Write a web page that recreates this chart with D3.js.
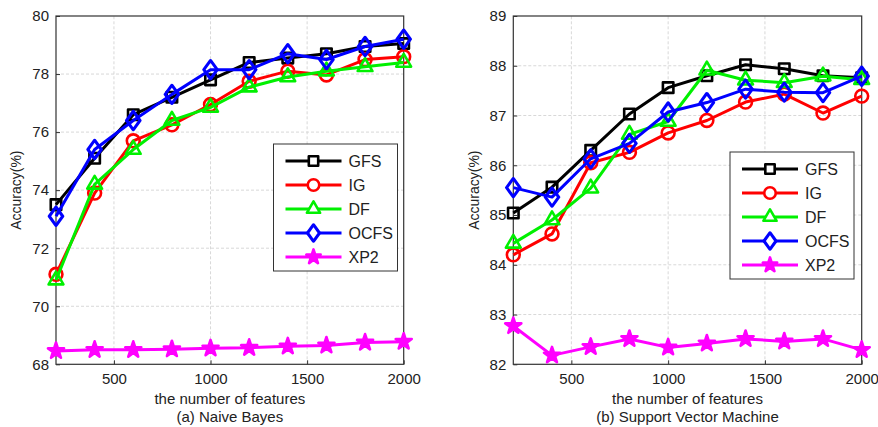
<!DOCTYPE html>
<html>
<head>
<meta charset="utf-8">
<script src="https://cdn.jsdelivr.net/npm/d3@7"></script>
<style>
  body { margin: 0; background: #fff; }
  svg { display: block; font-family: Arial, 'Liberation Sans', sans-serif; }
  .tick text { font-size: 15px; fill: #222; font-family: Arial, 'Liberation Sans', sans-serif; }
</style>
</head>
<body>
<div id="chart"></div>
<script>
// Accuracy vs number of features, two classifiers side by side

const features = [200, 400, 600, 800, 1000, 1200, 1400, 1600, 1800, 2000];
const methods = ['GFS', 'IG', 'DF', 'OCFS', 'XP2'];
const xTicks = [500, 1000, 1500, 2000];

// (a) Naive Bayes
const nbGFS  = [73.5, 75.1, 76.6, 77.2, 77.8, 78.4, 78.55, 78.7, 78.95, 79.05];
const nbIG   = [71.1, 73.9, 75.7, 76.25, 76.95, 77.75, 78.1, 77.97, 78.5, 78.6];
const nbDF   = [70.9, 74.2, 75.4, 76.4, 76.85, 77.55, 77.9, 78.1, 78.25, 78.4];
const nbOCFS = [73.1, 75.4, 76.4, 77.3, 78.15, 78.15, 78.7, 78.5, 78.95, 79.2];
const nbXP2  = [68.46, 68.5, 68.5, 68.52, 68.55, 68.57, 68.62, 68.65, 68.75, 68.78];
const nbTicks = [68, 70, 72, 74, 76, 78, 80];

// (b) Support Vector Machine
const svmGFS  = [85.04, 85.56, 86.3, 87.03, 87.56, 87.8, 88.02, 87.94, 87.8, 87.76];
const svmIG   = [84.2, 84.62, 86.05, 86.26, 86.65, 86.9, 87.27, 87.43, 87.05, 87.39];
const svmDF   = [84.43, 84.9, 85.54, 86.62, 86.88, 87.91, 87.71, 87.66, 87.79, 87.72];
const svmOCFS = [85.55, 85.36, 86.13, 86.44, 87.07, 87.26, 87.53, 87.47, 87.46, 87.79];
const svmXP2  = [82.77, 82.18, 82.35, 82.51, 82.34, 82.42, 82.51, 82.46, 82.51, 82.29];
const svmTicks = [82, 83, 84, 85, 86, 87, 88, 89];

const colors = { GFS: '#000000', IG: '#ff0000', DF: '#00f000', OCFS: '#0000ff', XP2: '#ff00ff' };
const shapes = {
  GFS: d3.symbolSquare, IG: d3.symbolCircle, DF: d3.symbolTriangle,
  OCFS: d3.symbolDiamond, XP2: d3.symbolStar
};
const sizes = { GFS: 110, IG: 130, DF: 95, OCFS: 100, XP2: 80 };

const svg = d3.select('#chart').append('svg')
  .attr('width', 878)
  .attr('height', 427);

function drawPanel (opt) {
  const x = d3.scaleLinear().domain([200, 2000]).range([opt.left, opt.right]);
  const y = d3.scaleLinear().domain(opt.domain).range([364.3, 16]);
  const g = svg.append('g');

  // grid
  g.append('g').selectAll('line.gx')
    .data(xTicks.slice(0, -1)).enter().append('line')
    .attr('x1', d => x(d)).attr('x2', d => x(d))
    .attr('y1', y.range()[0]).attr('y2', y.range()[1])
    .attr('stroke', '#d8d8d8').attr('stroke-dasharray', '3,2');
  g.append('g').selectAll('line.gy')
    .data(opt.ticks.slice(1, -1)).enter().append('line')
    .attr('x1', opt.left).attr('x2', opt.right)
    .attr('y1', d => y(d)).attr('y2', d => y(d))
    .attr('stroke', '#d8d8d8').attr('stroke-dasharray', '3,2');

  // axes
  const xAxis = g.append('g')
    .attr('transform', `translate(0 ${y.range()[0]})`)
    .call(d3.axisBottom(x).tickValues(xTicks).tickFormat(d3.format('d'))
      .tickSizeInner(-4).tickSizeOuter(0).tickPadding(9));
  const yAxis = g.append('g')
    .attr('transform', `translate(${opt.left} 0)`)
    .call(d3.axisLeft(y).tickValues(opt.ticks).tickFormat(d3.format('d'))
      .tickSizeInner(-4).tickSizeOuter(0).tickPadding(7));
  [xAxis, yAxis].forEach(a => {
    a.select('.domain').remove();
    a.selectAll('.tick line').attr('stroke', '#333');
    a.attr('font-size', null);
  });
  g.append('rect')
    .attr('x', opt.left).attr('y', y.range()[1])
    .attr('width', opt.right - opt.left).attr('height', y.range()[0] - y.range()[1])
    .attr('fill', 'none').attr('stroke', '#333').attr('stroke-width', 1.2);

  // lines + markers
  const line = d3.line().x((d, i) => x(features[i])).y(d => y(d));
  methods.forEach((m, k) => {
    const vals = opt.series[k];
    g.append('path')
      .attr('d', line(vals))
      .attr('fill', 'none')
      .attr('stroke', colors[m])
      .attr('stroke-width', 3)
      .attr('stroke-linejoin', 'round');
    g.append('g').selectAll('path')
      .data(vals).enter().append('path')
      .attr('transform', (d, i) => `translate(${x(features[i])} ${y(d)})${m === 'OCFS' ? ' scale(1.25 1)' : ''}`)
      .attr('d', d3.symbol().type(shapes[m]).size(sizes[m]))
      .attr('fill', m === 'XP2' ? colors[m] : 'none')
      .attr('stroke', colors[m])
      .attr('stroke-width', 2.6)
      .attr('stroke-linejoin', 'round');
  });

  // labels
  g.append('text')
    .attr('transform', `translate(${opt.ylabelX} ${(y.range()[0] + y.range()[1]) / 2}) rotate(-90)`)
    .attr('text-anchor', 'middle')
    .attr('font-size', 14)
    .attr('fill', '#222')
    .text('Accuracy(%)');
  g.append('text')
    .attr('x', (opt.left + opt.right) / 2).attr('y', 404)
    .attr('text-anchor', 'middle')
    .attr('font-size', 15)
    .attr('fill', '#222')
    .text('the number of features');
  g.append('text')
    .attr('x', (opt.left + opt.right) / 2).attr('y', 422)
    .attr('text-anchor', 'middle')
    .attr('font-size', 15)
    .attr('fill', '#222')
    .text(opt.title);

  // legend
  const lg = g.append('g').attr('transform', `translate(${opt.legend[0]} ${opt.legend[1]})`);
  lg.append('rect')
    .attr('width', 124).attr('height', 127)
    .attr('fill', '#fff').attr('stroke', '#333');
  methods.forEach((m, k) => {
    const row = lg.append('g').attr('transform', `translate(0 ${17 + k * 24})`);
    row.append('line')
      .attr('x1', 12).attr('x2', 68)
      .attr('stroke', colors[m]).attr('stroke-width', 3);
    row.append('path')
      .attr('transform', `translate(40 0)${m === 'OCFS' ? ' scale(1.25 1)' : ''}`)
      .attr('d', d3.symbol().type(shapes[m]).size(sizes[m] * 0.8))
      .attr('fill', m === 'XP2' ? colors[m] : '#fff')
      .attr('stroke', colors[m])
      .attr('stroke-width', 2.6)
      .attr('stroke-linejoin', 'round');
    row.append('text')
      .attr('x', 75).attr('y', 5.5)
      .attr('font-size', 16)
      .attr('fill', '#222')
      .text(m);
  });
}

drawPanel({
  left: 56, right: 403.7, domain: [68, 80], ticks: nbTicks,
  series: [nbGFS, nbIG, nbDF, nbOCFS, nbXP2],
  ylabelX: 21, title: '(a) Naive Bayes', legend: [273.5, 144]
});

drawPanel({
  left: 513.3, right: 861.7, domain: [82, 89], ticks: svmTicks,
  series: [svmGFS, svmIG, svmDF, svmOCFS, svmXP2],
  ylabelX: 479, title: '(b) Support Vector Machine', legend: [730, 152]
});
</script>
</body>
</html>
